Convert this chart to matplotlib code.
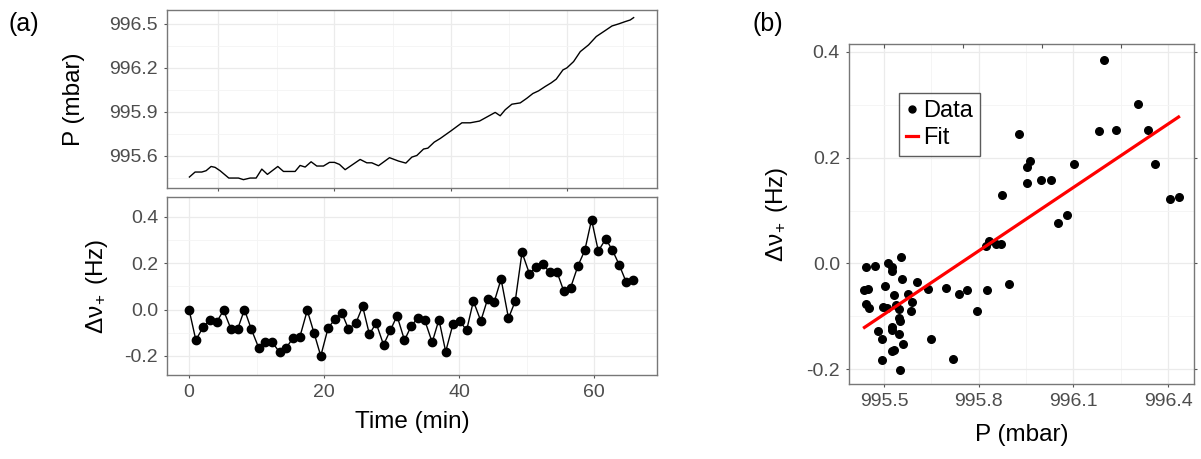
import matplotlib
matplotlib.use('Agg')
import matplotlib.pyplot as plt
from matplotlib.lines import Line2D
import numpy as np

plt.rcParams['font.family'] = ['Liberation Sans', 'DejaVu Sans']
plt.rcParams['mathtext.fontset'] = 'custom'
plt.rcParams['mathtext.rm'] = 'Liberation Sans'
plt.rcParams['mathtext.it'] = 'Liberation Sans:italic'

# (a) top: pressure trace
p_time = [0.05, 0.89, 1.88, 2.52, 3.26, 3.85, 4.59, 5.88, 7.31, 8.05, 9.04, 9.93,
          10.77, 11.60, 13.14, 13.98, 15.70, 16.44, 17.19, 18.07, 18.91, 19.90,
          20.79, 21.53, 22.27, 23.11, 25.33, 26.32, 27.06, 28.05, 29.68, 31.01,
          32.10, 32.99, 33.73, 34.72, 35.36, 36.30, 37.19, 38.81, 40.40, 41.63,
          43.01, 45.33, 46.07, 46.81, 47.80, 49.04, 50.03, 50.91, 51.75, 52.74,
          53.63, 54.37, 55.36, 55.95, 56.94, 57.93, 59.16, 60.30, 61.63, 62.62,
          63.60, 64.59, 65.33, 65.83]
p_mbar = [995.455, 995.489, 995.489, 995.498, 995.527, 995.521, 995.498, 995.448,
          995.448, 995.437, 995.448, 995.448, 995.509, 995.473, 995.527, 995.493,
          995.493, 995.534, 995.523, 995.559, 995.530, 995.530, 995.555, 995.555,
          995.541, 995.505, 995.575, 995.552, 995.552, 995.532, 995.587, 995.564,
          995.550, 995.591, 995.602, 995.646, 995.652, 995.693, 995.718, 995.771,
          995.825, 995.825, 995.837, 995.896, 995.873, 995.914, 995.952, 995.961,
          995.993, 996.025, 996.043, 996.073, 996.098, 996.123, 996.186, 996.200,
          996.243, 996.311, 996.357, 996.414, 996.455, 996.486, 996.500, 996.516,
          996.527, 996.543]

# (a) bottom: frequency shift vs time
dv_time = [0.0, 1.0, 2.1, 3.1, 4.1, 5.1, 6.2, 7.2, 8.2, 9.2, 10.3, 11.3, 12.3,
           13.4, 14.4, 15.4, 16.4, 17.5, 18.5, 19.5, 20.6, 21.6, 22.6, 23.6, 24.7,
           25.7, 26.7, 27.7, 28.8, 29.8, 30.8, 31.9, 32.9, 33.9, 34.9, 36.0, 37.0,
           38.0, 39.1, 40.1, 41.1, 42.1, 43.2, 44.2, 45.2, 46.2, 47.3, 48.3, 49.3,
           50.4, 51.4, 52.4, 53.4, 54.5, 55.5, 56.5, 57.6, 58.6, 59.6, 60.6, 61.7,
           62.7, 63.7, 64.7, 65.8]
dv_hz = [0.000, -0.131, -0.075, -0.043, -0.053, -0.003, -0.083, -0.083, 0.000,
         -0.083, -0.164, -0.141, -0.140, -0.184, -0.164, -0.122, -0.118, -0.003,
         -0.100, -0.200, -0.078, -0.042, -0.013, -0.083, -0.058, 0.014, -0.106,
         -0.058, -0.152, -0.089, -0.027, -0.132, -0.070, -0.035, -0.046, -0.141,
         -0.043, -0.181, -0.060, -0.050, -0.089, 0.037, -0.049, 0.045, 0.035,
         0.132, -0.037, 0.037, 0.247, 0.155, 0.184, 0.196, 0.161, 0.161, 0.079,
         0.095, 0.190, 0.256, 0.388, 0.253, 0.305, 0.256, 0.193, 0.121, 0.127]

# (b) scatter: frequency shift vs pressure
sc_p = [996.197, 996.305, 995.926, 996.181, 996.235, 996.335, 995.963, 995.954,
        996.102, 996.359, 995.954, 995.996, 996.029, 995.873, 996.406, 996.433,
        996.079, 996.052, 995.823, 995.834, 995.854, 995.870, 995.895, 995.825,
        995.696, 995.764, 995.739, 995.553, 995.443, 995.470, 995.512, 995.526,
        995.524, 995.557, 995.504, 995.604, 995.638, 995.438, 995.450, 995.532,
        995.575, 995.590, 995.444, 995.451, 995.537, 995.498, 995.510, 995.549,
        995.585, 995.794, 995.549, 995.551, 995.480, 995.526, 995.524, 995.492,
        995.548, 995.650, 995.561, 995.526, 995.533, 995.492, 995.717, 995.550]
sc_dv = [0.384, 0.302, 0.245, 0.251, 0.252, 0.253, 0.193, 0.182, 0.188, 0.189,
         0.153, 0.158, 0.158, 0.129, 0.121, 0.125, 0.092, 0.077, 0.033, 0.042,
         0.036, 0.036, -0.038, -0.050, -0.046, -0.051, -0.057, 0.013, -0.006,
         -0.004, 0.001, -0.006, -0.015, -0.030, -0.042, -0.036, -0.049, -0.051,
         -0.048, -0.060, -0.057, -0.072, -0.076, -0.084, -0.078, -0.082, -0.084,
         -0.086, -0.090, -0.089, -0.103, -0.108, -0.128, -0.121, -0.126, -0.142,
         -0.133, -0.142, -0.152, -0.165, -0.164, -0.182, -0.181, -0.202]
fit_p = [995.438, 996.433]
fit_dv = [-0.121, 0.277]

tick_col = '#4D4D4D'
border_col = '#777777'
grid_major = '#EBEBEB'
grid_minor = '#F4F4F4'


def style_axes(ax):
    ax.set_axisbelow(True)
    ax.grid(True, which='major', color=grid_major, linewidth=0.9)
    ax.grid(True, which='minor', color=grid_minor, linewidth=0.6)
    for s in ax.spines.values():
        s.set_color(border_col)
        s.set_linewidth(1.0)
    ax.tick_params(which='major', direction='out', length=2.5, width=0.8,
                   color='#555555', labelcolor=tick_col, labelsize=14, pad=4)
    ax.tick_params(which='minor', length=0)


fig = plt.figure(figsize=(12.01, 4.59), dpi=100)

pos3 = [0.7069, 0.1634, 0.2873, 0.7407]
ax1 = fig.add_axes([0.1391, 0.5904, 0.4080, 0.3878])
ax2 = fig.add_axes([0.1391, 0.1830, 0.4080, 0.3878])
ax3 = fig.add_axes(pos3)

# top-left panel
ax1.plot(p_time, p_mbar, color='black', linewidth=1.0)
ax1.set_xlim(-3.26, 69.3)
ax1.set_ylim(995.38, 996.595)
ax1.set_yticks([995.6, 995.9, 996.2, 996.5])
ax1.set_yticks([995.45, 995.75, 996.05, 996.35], minor=True)
ax1.set_xticks([4.3, 21.5, 38.8, 56.0])
ax1.set_xticks([13.0, 30.2, 47.4, 64.3], minor=True)
ax1.set_xticklabels([])
style_axes(ax1)
ax1.set_ylabel('P (mbar)', fontsize=17.5)
ax1.yaxis.set_label_coords(-0.168, 0.5)

# bottom-left panel
ax2.plot(dv_time, dv_hz, color='black', linewidth=1.0, marker='o',
         markersize=6, markerfacecolor='black', markeredgecolor='black')
ax2.set_xlim(-3.26, 69.3)
ax2.set_ylim(-0.282, 0.486)
ax2.set_yticks([-0.2, 0.0, 0.2, 0.4])
ax2.set_yticklabels(['-0.2', '0.0', '0.2', '0.4'])
ax2.set_yticks([-0.1, 0.1, 0.3], minor=True)
ax2.set_xticks([0, 20, 40, 60])
ax2.set_xticks([10, 30, 50], minor=True)
style_axes(ax2)
ax2.set_ylabel(r'Δν$_{\!+}$ (Hz)', fontsize=17.5)
ax2.yaxis.set_label_coords(-0.116, 0.5)
ax2.set_xlabel('Time (min)', fontsize=17.5)
ax2.xaxis.set_label_coords(0.5, -0.205)

# right panel
ax3.scatter(sc_p, sc_dv, s=30, color='black', zorder=3, label='Data')
ax3.plot(fit_p, fit_dv, color='#FF0000', linewidth=2.3, zorder=4, label='Fit')
ax3.set_xlim(995.389, 996.482)
ax3.set_ylim(-0.228, 0.415)
ax3.set_xticks([995.5, 995.8, 996.1, 996.4])
ax3.set_xticklabels(['995.5', '995.8', '996.1', '996.4'])
ax3.set_xticks([995.65, 995.95, 996.25], minor=True)
ax3.set_yticks([-0.2, 0.0, 0.2, 0.4])
ax3.set_yticklabels(['-0.2', '0.0', '0.2', '0.4'])
ax3.set_yticks([-0.1, 0.1, 0.3], minor=True)
style_axes(ax3)
ax3.tick_params(which='major', axis='y', right=True)
ax3.set_ylabel(r'Δν$_{\!+}$ (Hz)', fontsize=17.5)
ax3.yaxis.set_label_coords(-0.171, 0.5)
ax3.set_xlabel('P (mbar)', fontsize=17.5)
ax3.xaxis.set_label_coords(0.5, -0.117)

# inward tick marks along the top edge of (b)
ax_top = fig.add_axes(pos3, frameon=False)
ax_top.patch.set_visible(False)
ax_top.set_xlim(ax3.get_xlim())
ax_top.set_yticks([])
ax_top.xaxis.tick_top()
ax_top.set_xticks([995.5, 995.75, 996.0, 996.25])
ax_top.set_xticklabels([])
ax_top.tick_params(direction='in', length=3, width=0.8, color='#555555')

handles = [Line2D([], [], linestyle='none', marker='o', markersize=5, color='black'),
           Line2D([], [], color='#FF0000', linewidth=2.3)]
leg = ax3.legend(handles, ['Data', 'Fit'], loc='upper left',
                 bbox_to_anchor=(0.144, 0.855), fontsize=17, frameon=True,
                 fancybox=False, handlelength=0.5, handletextpad=0.25,
                 borderpad=0.3, labelspacing=0.2, borderaxespad=0)
leg.get_frame().set_edgecolor('#333333')
leg.get_frame().set_linewidth(1.0)

fig.text(8 / 1201, 1 - 23.5 / 459, '(a)', fontsize=18, ha='left', va='center')
fig.text(752 / 1201, 1 - 23.5 / 459, '(b)', fontsize=18, ha='left', va='center')

fig.savefig('out.png', dpi=100)
